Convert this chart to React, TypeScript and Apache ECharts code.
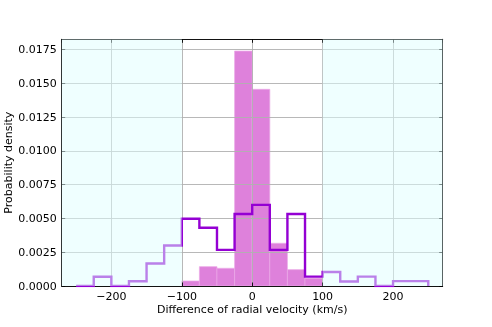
import React, { useEffect, useRef } from 'react';
import * as echarts from 'echarts';

// Step-outline histogram (all pairs), bin edges and densities
const outlineEdges = [-250, -225, -200, -175, -150, -125, -100, -75, -50, -25, 0, 25, 50, 75, 100, 125, 150, 175, 200, 225, 250];
const outlineDensity = [0, 0.00068, 0, 0.00035, 0.00167, 0.00300, 0.00497, 0.00431, 0.00267, 0.00533, 0.00600, 0.00267, 0.00533, 0.00069, 0.00104, 0.00033, 0.00069, 0, 0.00036, 0.00036];

// Filled histogram (inner region)
const filledEdges = [-100, -75, -50, -25, 0, 25, 50, 75, 100];
const filledDensity = [0.00037, 0.00143, 0.00131, 0.01738, 0.01455, 0.00316, 0.00121, 0.00058];

// Shaded outer regions
const shadedRanges = [[-270.5, -100], [100, 270.5]];

const X_MIN = -270.5;
const X_MAX = 270.5;
const Y_MAX = 0.01825;
const Y_STEP = 0.0025;

const FONT = 'DejaVu Sans';

export default function App() {
  const ref = useRef<HTMLDivElement>(null);
  useEffect(() => {
    if (!ref.current) return;
    const chart = echarts.init(ref.current, undefined, { renderer: 'svg' });

    const outlinePoints: number[][] = [[outlineEdges[0], 0]];
    outlineDensity.forEach((v, i) => {
      outlinePoints.push([outlineEdges[i], v]);
      outlinePoints.push([outlineEdges[i + 1], v]);
    });
    outlinePoints.push([outlineEdges[outlineEdges.length - 1], 0]);

    const barData = filledDensity.map((v, i) => [filledEdges[i], filledEdges[i + 1], v]);

    const xFmt = (v: number) => (v < 0 ? '\u2212' + Math.abs(v) : String(v));
    const axisLineStyle = { color: '#000', width: 0.9 };
    const tickCommon = { show: true, inside: true, length: 3.5, lineStyle: { color: '#000', width: 0.9 } };

    chart.setOption({
      animation: false,
      grid: { left: 61.7, right: 49.3, top: 39.3, bottom: 41, containLabel: false, outerBoundsMode: 'none' },
      xAxis: [
        {
          type: 'value', min: X_MIN, max: X_MAX, minInterval: 100, maxInterval: 100, z: 3,
          axisLine: { show: true, onZero: false, lineStyle: axisLineStyle },
          axisTick: tickCommon,
          axisLabel: { show: true, showMinLabel: false, showMaxLabel: false, margin: 5, color: '#000', fontFamily: FONT, fontSize: 11, formatter: xFmt },
          splitLine: { show: true, lineStyle: { color: '#b0b0b0', width: 0.9 } },
          name: 'Difference of radial velocity (km/s)', nameLocation: 'middle', nameGap: 18, nameMoveOverlap: false,
          nameTextStyle: { color: '#000', fontFamily: FONT, fontSize: 11 },
        },
        {
          type: 'value', position: 'top', min: X_MIN, max: X_MAX, minInterval: 100, maxInterval: 100, z: 3,
          axisLine: { show: true, onZero: false, lineStyle: axisLineStyle },
          axisTick: tickCommon,
          axisLabel: { show: false },
          splitLine: { show: false },
        },
      ],
      yAxis: [
        {
          type: 'value', min: 0, max: Y_MAX, interval: Y_STEP, z: 3,
          axisLine: { show: true, onZero: false, lineStyle: axisLineStyle },
          axisTick: tickCommon,
          axisLabel: { show: true, showMaxLabel: false, margin: 5, color: '#000', fontFamily: FONT, fontSize: 11, formatter: (v: number) => v.toFixed(4) },
          splitLine: { show: true, lineStyle: { color: '#b0b0b0', width: 0.9 } },
          name: 'Probability density', nameLocation: 'middle', nameGap: 48, nameMoveOverlap: false,
          nameTextStyle: { color: '#000', fontFamily: FONT, fontSize: 11 },
        },
        {
          type: 'value', position: 'right', min: 0, max: Y_MAX, interval: Y_STEP, z: 3,
          axisLine: { show: true, onZero: false, lineStyle: axisLineStyle },
          axisTick: tickCommon,
          axisLabel: { show: false },
          splitLine: { show: false },
        },
      ],
      series: [
        {
          type: 'custom',
          z: 2,
          xAxisIndex: 0, yAxisIndex: 0,
          encode: { x: [0, 1], y: 2 },
          data: barData,
          renderItem: (params: any, api: any) => {
            const p0 = api.coord([api.value(0), 0]);
            const p1 = api.coord([api.value(1), api.value(2)]);
            return {
              type: 'rect',
              shape: { x: p0[0], y: p1[1], width: p1[0] - p0[0], height: p0[1] - p1[1] },
              style: { fill: 'rgba(218,112,214,0.88)', stroke: 'rgba(236,170,232,0.9)', lineWidth: 0.8 },
            };
          },
        },
        {
          type: 'line',
          z: 5,
          xAxisIndex: 0, yAxisIndex: 0,
          data: outlinePoints,
          symbol: 'none',
          lineStyle: { color: '#9400d3', width: 2.4, join: 'miter' },
        },
        {
          type: 'line',
          z: 10,
          xAxisIndex: 0, yAxisIndex: 0,
          data: [],
          symbol: 'none',
          markArea: {
            z: 10,
            silent: true,
            itemStyle: { color: 'rgba(224,255,255,0.5)' },
            data: shadedRanges.map((r) => [{ xAxis: r[0] }, { xAxis: r[1] }]),
          },
        },
      ],
    });
    return () => chart.dispose();
  }, []);
  return <div ref={ref} style={{ position: 'fixed', left: 0, top: 0, width: 492, height: 327 }} />;
}
